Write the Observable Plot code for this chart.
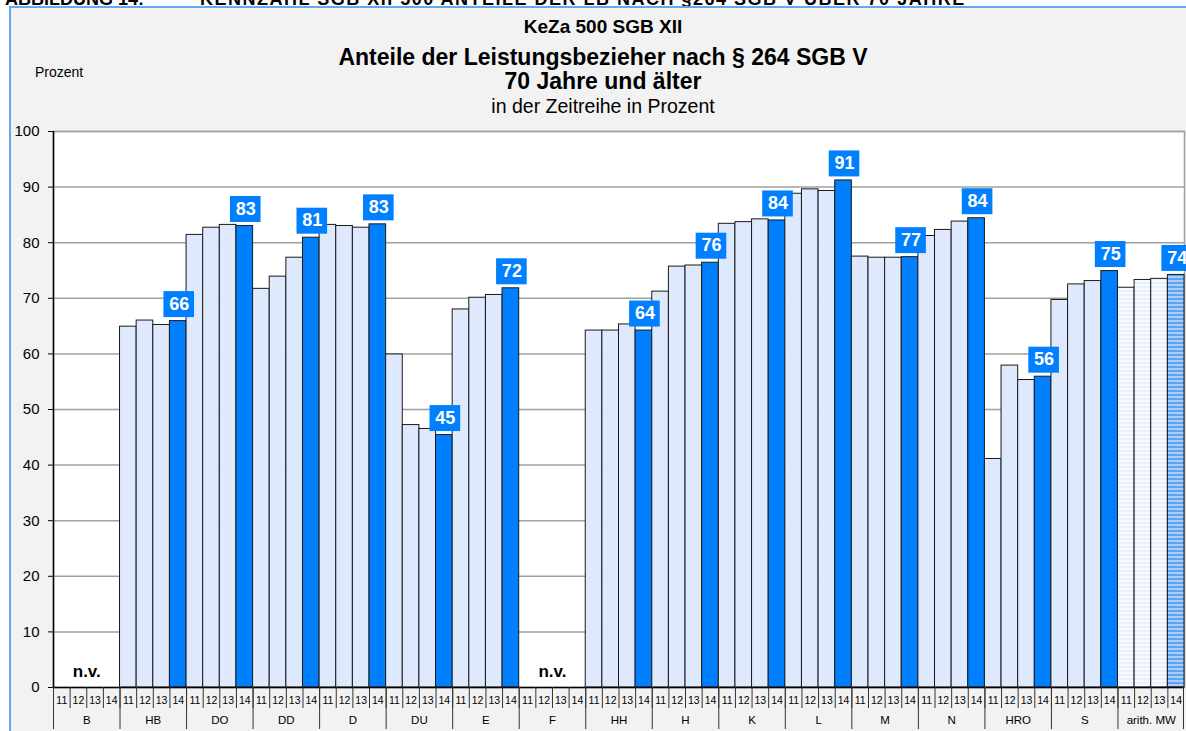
<!DOCTYPE html>
<html><head><meta charset="utf-8">
<script src="https://cdn.jsdelivr.net/npm/d3@7"></script>
<script src="https://cdn.jsdelivr.net/npm/@observablehq/plot@0.6"></script>
<style>
body{margin:0;width:1186px;height:731px;overflow:hidden;background:#fff;font-family:Arial,"Liberation Sans",sans-serif;position:relative}
.hdr{position:absolute;top:-10px;font-size:18px;font-weight:bold;white-space:nowrap;line-height:18px;color:#000}
#panel{position:absolute;left:9px;top:6px;width:1177px;height:725px;background:#f2f2f2;border-left:2px solid #63a8f0;border-top:2px solid #63a8f0;box-sizing:border-box}
.t{position:absolute;left:0;width:1206px;text-align:center;white-space:nowrap;color:#000}
#chart{position:absolute;left:0;top:110px}
</style></head><body>
<div class="hdr" style="left:5px">ABBILDUNG 14:</div>
<div class="hdr" style="left:200px;letter-spacing:1.5px">KENNZAHL SGB XII 500 ANTEILE DER LB NACH §264 SGB V ÜBER 70 JAHRE</div>
<div id="panel"></div>
<div class="t" style="top:16px;font-size:19px;line-height:22px;font-weight:bold">KeZa 500 SGB XII</div>
<div class="t" style="top:44px;font-size:23px;line-height:26px;font-weight:bold">Anteile der Leistungsbezieher nach § 264 SGB V</div>
<div class="t" style="top:68px;font-size:23px;line-height:26px;font-weight:bold">70 Jahre und älter</div>
<div class="t" style="top:95px;font-size:19.5px;line-height:22px">in der Zeitreihe in Prozent</div>
<div style="position:absolute;left:35px;top:63px;font-size:14px;line-height:18px">Prozent</div>
<div id="chart"></div>
<script>
const categories = ["B","HB","DO","DD","D","DU","E","F","HH","H","K","L","M","N","HRO","S","arith. MW"];
const years = ["11","12","13","14"];
const v11 = [null,64.9,81.4,71.7,83.2,59.9,68.0,null,64.2,71.2,83.4,88.8,77.5,81.2,41.1,69.7,71.9];
const v12 = [null,66.0,82.7,73.9,83.0,47.2,70.1,null,64.2,75.7,83.7,89.6,77.3,82.3,57.9,72.5,73.3];
const v13 = [null,65.2,83.2,77.3,82.7,46.5,70.6,null,65.3,75.9,84.2,89.3,77.3,83.8,55.3,73.1,73.5];
const v14 = [null,65.9,83.0,80.9,83.3,45.4,71.8,null,64.2,76.4,84.0,91.2,77.4,84.4,55.9,74.9,74.2];
const yTicks = [0,10,20,30,40,50,60,70,80,90,100];
const missing = ["B","F"];
const series = [v11,v12,v13,v14];

const W = 1186, H = 621, ML = 53, MR = 2, MT = 21, MB = 44;
const keys = categories.flatMap(c => years.map(y => c + "|" + y));
const bw = (W - ML - MR) / keys.length;
const rows = [];
categories.forEach((c, i) => years.forEach((y, j) => {
  const v = series[j][i];
  if (v != null) rows.push({cat: c, year: y, key: c + "|" + y, value: v});
}));
const last = rows.filter(d => d.year === "14");
const fillFor = d => d.cat === "arith. MW"
  ? (d.year === "14" ? "url(#mwBlue)" : "url(#mwLight)")
  : (d.year === "14" ? "#0080ff" : "#dfe9fd");

const chart = Plot.plot({
  width: W, height: H,
  marginLeft: ML, marginRight: MR, marginTop: MT, marginBottom: MB,
  style: {fontFamily: "Arial, 'Liberation Sans', sans-serif", fontSize: "15px", background: "transparent", color: "#000"},
  x: {type: "band", domain: keys, padding: 0, axis: null},
  y: {domain: [0, 100], ticks: yTicks, tickSize: 5, tickPadding: 9, label: null},
  color: {type: "identity"},
  marks: [
    Plot.frame({fill: "white", stroke: "#a0a0a0", strokeWidth: 1.5}),
    Plot.ruleY(yTicks.filter(t => t > 0), {stroke: "#a0a0a0", strokeWidth: 1.5}),
    Plot.barY(rows, {x: "key", y: "value", fill: fillFor, stroke: "#1a1a1a", strokeWidth: 1}),
    Plot.ruleY([0], {stroke: "#000", strokeWidth: 1.5}),
    Plot.ruleX([keys[0]], {dx: -bw / 2, stroke: "#000", strokeWidth: 1.5}),
    Plot.ruleX(keys, {x: d => d, y1: 0, y2: 0, dx: -bw / 2, insetBottom: -21, stroke: "#333", strokeWidth: 1}),
    Plot.ruleX([keys[keys.length - 1]], {x: d => d, y1: 0, y2: 0, dx: bw / 2 - 1, insetBottom: -42, stroke: "#333", strokeWidth: 1}),
    Plot.ruleX(categories, {x: c => c + "|11", y1: 0, y2: 0, dx: -bw / 2, insetBottom: -42, stroke: "#333", strokeWidth: 1}),
    Plot.text(keys, {x: d => d, y: 0, dy: 13, text: d => d.split("|")[1], fontSize: 10.5, fill: "#000"}),
    Plot.text(categories, {x: c => c + "|12", y: 0, dx: bw / 2, dy: 33, text: d => d, fontSize: 11.5, fill: "#000"}),
    Plot.text(missing, {x: c => c + "|12", y: 0, dx: bw / 2, dy: -16, text: () => "n.v.", fontWeight: "bold", fontSize: 17, fill: "#000"}),
    Plot.tickY(last, {x: "key", y: "value", dx: 1, dy: -17, insetLeft: -7, insetRight: -7, stroke: "#0080ff", strokeWidth: 26}),
    Plot.text(last, {x: "key", y: "value", dx: 1, dy: -17, text: d => String(Math.round(d.value)), fill: "white", fontWeight: "bold", fontSize: 18})
  ]
});
d3.select(chart).insert("defs", ":first-child").html(
  '<pattern id="mwLight" patternUnits="userSpaceOnUse" width="4" height="4"><rect width="4" height="4" fill="#f7f9fe"/><rect width="4" height="2" fill="#e9f0fd"/></pattern>' +
  '<pattern id="mwBlue" patternUnits="userSpaceOnUse" width="4" height="4"><rect width="4" height="4" fill="#a9cdf8"/><rect width="4" height="2" fill="#5ea3f2"/></pattern>'
);
document.getElementById("chart").appendChild(chart);
</script>
</body></html>
